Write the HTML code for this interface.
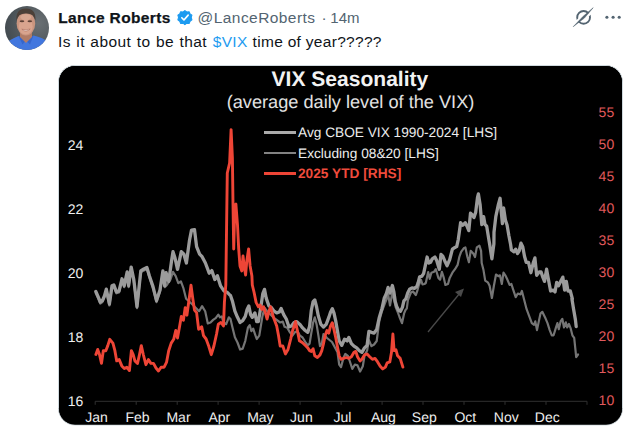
<!DOCTYPE html>
<html><head><meta charset="utf-8"><title>Post</title>
<style>
html,body{margin:0;padding:0;background:#fff;}
body{width:633px;height:430px;overflow:hidden;position:relative;font-family:"Liberation Sans",sans-serif;}
.t{position:absolute;white-space:nowrap;line-height:20px;font-size:15.5px;color:#0f1419;}
.name{left:58.2px;top:7.5px;font-weight:bold;letter-spacing:0.38px;-webkit-text-stroke:0.25px #0f1419;}
.handle{left:197.6px;top:7.5px;color:#536471;letter-spacing:0.43px;}
.dot{left:321.5px;top:7.5px;color:#536471;}
.time{left:330.3px;top:7.5px;color:#536471;font-size:15px;}
.t1{left:58px;top:31.5px;letter-spacing:0.45px;word-spacing:0.6px;}
.t2{left:212.8px;top:31.5px;color:#1d9bf0;letter-spacing:0.3px;}
.t3{left:252.6px;top:31.5px;letter-spacing:0.3px;}
svg{position:absolute;left:0;top:0;}
</style></head><body>
<div class="t name">Lance Roberts</div>
<div class="t handle">@LanceRoberts</div>
<div class="t dot">·</div>
<div class="t time">14m</div>
<div class="t t1">Is it about to be that</div>
<div class="t t2">$VIX</div>
<div class="t t3">time of year?????</div>
<svg width="633" height="430" viewBox="0 0 633 430">
<defs>
<clipPath id="av"><circle cx="27" cy="28" r="22"/></clipPath>
<radialGradient id="avbg" cx="0.75" cy="0.4" r="0.8"><stop offset="0" stop-color="#6a7074"/><stop offset="1" stop-color="#40484d"/></radialGradient>
<filter id="soft" x="-10%" y="-10%" width="120%" height="120%"><feGaussianBlur stdDeviation="0.55"/></filter>
<clipPath id="card"><rect x="59" y="66" width="563" height="358.5" rx="16" ry="16"/></clipPath>
</defs>
<!-- avatar -->
<g clip-path="url(#av)">
<rect x="4" y="5" width="46" height="46" fill="url(#avbg)"/>
<g filter="url(#soft)">
<path d="M2,52 L4,44.5 Q9,40 18.5,36 L26,40.5 L33.5,35.5 Q43,37.5 49,42.5 L52,52 Z" fill="#4377de"/>
<path d="M18.5,36 L22.5,44.5 L26,40.5 Z" fill="#3566cc"/>
<path d="M33.5,35.5 L30,44.5 L26,40.5 Z" fill="#3566cc"/>
<path d="M20,30 L20,37 L26,43 L32,37 L32,30 Z" fill="#b27c66"/>
<ellipse cx="25.9" cy="23.4" rx="9.3" ry="12" fill="#c9957f"/>
<ellipse cx="25.7" cy="26.5" rx="7" ry="8" fill="#d9a48e"/>
<ellipse cx="25.8" cy="17" rx="5.5" ry="3" fill="#d7a791"/>
<path d="M16.4,20.5 Q15.6,8.8 26,8.6 Q36.2,8.8 35.4,20.5 Q34,13.2 26,13.4 Q18,13.2 16.4,20.5 Z" fill="#4b3f38"/>
<ellipse cx="22" cy="21.3" rx="2.3" ry="1" fill="#5d4036"/>
<ellipse cx="29.8" cy="21.3" rx="2.3" ry="1" fill="#5d4036"/>
<path d="M21.8,29.2 Q26,33 30.2,29 Q26,30.4 21.8,29.2 Z" fill="#f6ebe6" stroke="#a3604f" stroke-width="0.5"/>
</g>
</g>
<!-- verified badge -->
<g transform="translate(184.9,17.6) scale(0.86)">
<path d="M0,-8.2 L2.2,-6.6 L4.9,-6.9 L6,-4.4 L8.2,-2.8 L7.4,-0.2 L8.2,2.6 L6,4.2 L4.9,6.8 L2.2,6.5 L0,8.2 L-2.2,6.5 L-4.9,6.8 L-6,4.2 L-8.2,2.6 L-7.4,-0.2 L-8.2,-2.8 L-6,-4.4 L-4.9,-6.9 L-2.2,-6.6 Z" fill="#1d9bf0" stroke="#1d9bf0" stroke-width="1.2" stroke-linejoin="round"/>
<path d="M-3.6,0.2 L-1.1,2.8 L3.8,-2.9" fill="none" stroke="#fff" stroke-width="1.9" stroke-linecap="round" stroke-linejoin="round"/>
</g>
<!-- right icons -->
<circle cx="583.6" cy="17.4" r="6.4" stroke="#536471" fill="none" stroke-width="1.9"/>
<g stroke="#fff" stroke-width="2.6"><line x1="587.6" y1="15.9" x2="591.1" y2="12.5"/><line x1="576.1" y1="22.3" x2="579.6" y2="18.9"/></g>
<path d="M573.2,26.7 L582.9,16.6 L593.2,7.7 L584.4,18.1 Z" fill="#536471" stroke="#536471" stroke-width="0.5" stroke-linejoin="round"/>
<g fill="#536471"><circle cx="606.9" cy="17.3" r="1.55"/><circle cx="613.1" cy="17.3" r="1.55"/><circle cx="619.2" cy="17.3" r="1.55"/></g>
<!-- card -->
<rect x="58.5" y="65.5" width="564" height="359.5" rx="16.5" ry="16.5" fill="#000" stroke="#cfd9de" stroke-width="1"/>
<g clip-path="url(#card)" font-family="Liberation Sans, sans-serif" text-rendering="geometricPrecision">
<rect x="59" y="66" width="563" height="359" fill="#000"/>
<text x="349.9" y="85.9" font-size="21.05" font-weight="bold" fill="#f2f2f2" text-anchor="middle">VIX Seasonality</text>
<text x="350.5" y="107.8" font-size="18.2" fill="#e2e2e2" text-anchor="middle">(average daily level of the VIX)</text>
<g font-size="13.7" fill="#ededed">
<text x="298" y="137.2">Avg CBOE VIX 1990-2024 [LHS]</text>
<text x="298" y="157.8">Excluding 08&amp;20 [LHS]</text>
<text x="298" y="178.4" font-weight="bold" fill="#ef4b3c">2025 YTD [RHS]</text>
</g>
<line x1="264" y1="132.4" x2="296" y2="132.4" stroke="#aaaaaa" stroke-width="3"/>
<line x1="264" y1="152.9" x2="296" y2="152.9" stroke="#828282" stroke-width="2"/>
<line x1="264" y1="173.5" x2="296" y2="173.5" stroke="#ee4536" stroke-width="3"/>
<g stroke="#303030" stroke-width="1"><line x1="95.2" y1="401.3" x2="587" y2="401.3"/><line x1="95.2" y1="401.3" x2="95.2" y2="404.8" /><line x1="136.2" y1="401.3" x2="136.2" y2="404.8" /><line x1="177.2" y1="401.3" x2="177.2" y2="404.8" /><line x1="218.1" y1="401.3" x2="218.1" y2="404.8" /><line x1="259.1" y1="401.3" x2="259.1" y2="404.8" /><line x1="300.1" y1="401.3" x2="300.1" y2="404.8" /><line x1="341.1" y1="401.3" x2="341.1" y2="404.8" /><line x1="382.1" y1="401.3" x2="382.1" y2="404.8" /><line x1="423.0" y1="401.3" x2="423.0" y2="404.8" /><line x1="464.0" y1="401.3" x2="464.0" y2="404.8" /><line x1="505.0" y1="401.3" x2="505.0" y2="404.8" /><line x1="546.0" y1="401.3" x2="546.0" y2="404.8" /><line x1="587.0" y1="401.3" x2="587.0" y2="404.8" /></g>
<g font-size="14" fill="#efefef" text-anchor="middle"><text x="96.5" y="421.8">Jan</text><text x="137.5" y="421.8">Feb</text><text x="178.5" y="421.8">Mar</text><text x="219.4" y="421.8">Apr</text><text x="260.4" y="421.8">May</text><text x="301.4" y="421.8">Jun</text><text x="342.4" y="421.8">Jul</text><text x="383.4" y="421.8">Aug</text><text x="424.3" y="421.8">Sep</text><text x="465.3" y="421.8">Oct</text><text x="506.3" y="421.8">Nov</text><text x="547.3" y="421.8">Dec</text></g>
<g font-size="14" fill="#efefef" text-anchor="end"><text x="83.3" y="405.7">16</text><text x="83.3" y="341.7">18</text><text x="83.3" y="277.7">20</text><text x="83.3" y="213.7">22</text><text x="83.3" y="149.7">24</text></g>
<g font-size="14" fill="#e0595c" text-anchor="start"><text x="598.6" y="405.4">10</text><text x="598.6" y="373.4">15</text><text x="598.6" y="341.4">20</text><text x="598.6" y="309.4">25</text><text x="598.6" y="277.4">30</text><text x="598.6" y="245.4">35</text><text x="598.6" y="213.4">40</text><text x="598.6" y="181.4">45</text><text x="598.6" y="149.4">50</text><text x="598.6" y="117.4">55</text></g>
<g stroke="#4a4a4a" stroke-width="1.3" fill="#4a4a4a"><line x1="428" y1="332" x2="460" y2="293"/><path d="M464,288.5 L455,292 L461,297 Z" stroke="none"/></g>
<path d="M95.8,293.0 L98.1,298.2 L100.3,303.5 L102.4,302.1 L104.5,297.2 L106.3,290.7 L109.4,305.5 L112.0,287.2 L113.8,286.4 L116.4,293.3 L119.0,292.5 L122.0,280.3 L124.2,287.2 L127.2,273.3 L128.6,287.2 L131.2,268.6 L133.8,281.1 L137.0,308.2 L140.8,272.4 L143.4,270.7 L146.9,268.9 L149.5,277.7 L153.0,288.1 L156.5,302.1 L160.0,291.6 L162.9,272.4 L164.7,287.2 L166.9,284.9 L170.4,279.6 L173.0,271.8 L175.7,276.2 L178.3,283.1 L180.9,281.4 L183.5,288.4 L186.1,298.8 L193.0,305.0 L199.1,311.2 L202.1,306.1 L205.2,311.2 L207.8,323.4 L210.5,322.5 L213.1,319.9 L215.7,318.1 L218.3,314.6 L220.0,317.3 L221.8,316.4 L223.5,322.5 L226.2,324.2 L228.8,317.3 L230.5,319.0 L232.3,326.8 L234.9,337.3 L237.5,342.5 L240.1,349.5 L242.7,348.6 L245.3,340.8 L247.9,327.7 L249.7,325.1 L251.4,331.2 L253.2,328.6 L254.9,333.8 L256.7,339.0 L259.3,335.6 L261.0,325.1 L262.4,316.4 L264.5,307.7 L267.1,311.2 L269.7,313.8 L273.2,317.3 L276.7,319.9 L280.2,322.5 L282.8,321.6 L284.6,326.8 L287.2,327.7 L289.8,332.1 L292.4,335.6 L295.0,332.1 L297.6,331.2 L300.0,335.7 L302.6,337.5 L305.2,341.8 L307.8,345.3 L309.6,343.6 L311.3,333.1 L313.1,322.7 L314.8,317.4 L316.6,324.4 L318.3,334.9 L320.0,346.2 L321.8,343.6 L323.5,334.0 L327.0,338.0 L332.0,342.0 L337.5,352.3 L339.2,364.5 L341.0,367.1 L343.6,357.5 L345.3,354.0 L347.9,355.8 L349.7,361.0 L352.3,368.9 L354.9,364.5 L357.5,365.4 L360.1,371.5 L362.8,366.2 L364.5,355.8 L367.1,350.6 L368.9,340.1 L371.5,346.2 L374.1,344.5 L376.7,341.0 L379.3,320.9 L381.9,311.3 L384.8,303.6 L386.7,298.9 L388.1,294.1 L390.0,305.5 L392.4,292.2 L393.9,298.9 L395.8,307.4 L397.7,312.0 L399.5,317.0 L402.0,323.2 L404.1,313.4 L405.5,310.0 L406.8,308.6 L407.9,300.2 L409.5,296.0 L411.0,292.5 L413.0,291.5 L415.8,295.0 L417.2,291.2 L418.7,285.5 L421.0,279.8 L422.5,284.5 L424.4,284.0 L425.8,283.0 L427.3,276.0 L428.2,272.0 L429.7,278.8 L431.4,272.7 L434.0,271.8 L435.8,269.2 L438.4,277.9 L440.1,279.7 L441.9,271.8 L443.6,277.1 L445.4,284.9 L448.0,284.0 L449.7,277.9 L452.4,272.7 L455.0,269.2 L457.6,264.9 L459.3,257.0 L461.1,251.8 L463.7,248.3 L465.4,247.4 L467.2,256.2 L468.9,262.3 L470.7,250.9 L473.3,253.5 L475.0,257.0 L476.8,247.4 L479.4,245.7 L481.1,250.9 L481.7,263.1 L483.5,270.1 L485.2,280.6 L487.8,282.3 L489.6,285.8 L491.9,298.0 L493.9,285.8 L496.0,274.5 L498.3,276.2 L500.0,275.3 L501.8,284.0 L503.5,272.7 L505.3,275.3 L507.0,278.8 L509.6,284.9 L511.4,284.0 L513.1,289.3 L515.7,297.1 L517.8,293.5 L520.5,294.4 L521.9,290.9 L523.9,298.7 L526.6,309.2 L529.2,316.2 L531.8,323.1 L534.1,324.9 L535.3,321.4 L537.0,330.1 L538.8,321.4 L540.5,313.5 L542.3,311.8 L544.0,315.3 L545.7,318.8 L547.5,323.1 L549.7,330.1 L551.8,335.3 L553.6,335.3 L555.7,328.4 L557.4,323.1 L558.8,329.2 L560.6,321.4 L562.3,318.8 L564.0,327.5 L565.8,322.3 L567.2,327.5 L568.9,324.0 L570.7,328.4 L572.4,335.3 L574.2,337.9 L575.4,349.3 L576.2,357.1 L578.0,354.5" fill="none" stroke="#757575" stroke-width="2.2" stroke-linejoin="round" stroke-linecap="round"/>
<path d="M95.8,291.5 L98.1,296.7 L100.3,302.0 L102.4,300.6 L104.5,295.7 L106.3,289.2 L109.4,304.0 L112.0,285.7 L113.8,284.9 L116.4,291.8 L119.0,291.0 L122.0,278.8 L124.2,285.7 L127.2,271.8 L128.6,285.7 L131.2,267.1 L133.8,279.6 L137.0,306.7 L140.8,270.9 L143.4,269.2 L146.9,267.4 L149.5,276.2 L153.0,286.6 L156.5,300.6 L160.0,290.1 L162.9,270.9 L164.7,285.7 L166.1,272.7 L168.7,281.4 L171.6,260.5 L173.0,251.7 L175.0,258.0 L177.5,269.4 L181.3,251.6 L183.9,254.2 L186.4,263.0 L189.5,240.2 L191.5,230.1 L194.5,229.6 L196.6,246.6 L199.6,254.2 L202.1,256.7 L205.4,263.0 L209.2,273.2 L211.8,270.6 L214.8,279.5 L217.4,275.7 L220.6,285.9 L223.9,290.9 L227.0,292.2 L229.5,294.7 L230.5,295.5 L232.3,300.7 L234.9,311.2 L237.5,317.3 L240.1,322.5 L242.7,320.7 L245.3,316.4 L247.1,309.4 L248.8,305.9 L250.6,314.6 L252.3,317.3 L254.9,312.9 L256.7,321.6 L258.4,321.6 L261.0,305.9 L262.8,293.7 L264.5,289.4 L266.2,298.1 L268.9,305.9 L271.5,307.7 L274.1,311.2 L276.7,312.9 L279.3,312.0 L281.1,308.5 L283.7,314.6 L286.3,319.0 L288.9,326.8 L291.5,326.0 L294.1,322.5 L296.8,321.6 L299.4,324.2 L300.0,324.4 L302.6,327.9 L305.2,330.5 L307.8,332.3 L309.6,326.2 L311.3,310.5 L313.1,301.7 L314.8,300.0 L316.6,307.0 L318.3,315.7 L320.9,324.4 L323.5,327.0 L326.2,324.4 L328.8,317.4 L330.5,312.2 L332.3,308.7 L334.0,313.1 L335.7,320.9 L337.5,331.4 L339.2,341.0 L341.8,345.3 L344.5,339.2 L347.1,341.0 L348.8,337.5 L351.4,343.6 L354.0,346.2 L356.7,347.9 L359.3,350.6 L361.9,352.3 L364.5,347.9 L367.1,345.3 L368.9,331.4 L371.5,332.3 L374.1,333.1 L376.7,329.6 L379.3,317.4 L381.9,308.7 L382.4,306.5 L384.3,297.9 L386.2,294.1 L388.1,287.4 L390.0,293.1 L392.4,285.5 L393.9,292.2 L395.3,301.7 L396.7,306.5 L398.6,310.3 L400.5,311.3 L402.4,307.4 L403.9,300.8 L405.8,298.9 L407.7,293.1 L409.6,289.3 L412.0,287.9 L414.4,288.4 L416.8,286.5 L418.2,282.6 L419.6,276.9 L421.8,276.2 L423.6,273.6 L425.3,265.7 L427.1,257.0 L428.8,263.1 L430.6,262.3 L432.3,258.8 L434.9,257.0 L436.7,260.5 L439.3,269.2 L441.0,254.4 L442.8,256.2 L445.4,262.3 L447.1,265.7 L449.7,259.6 L452.4,249.2 L455.0,247.4 L456.7,246.6 L458.3,239.3 L460.6,222.7 L462.7,225.3 L465.3,222.7 L467.0,226.2 L468.8,230.6 L470.5,213.1 L472.3,214.9 L474.0,217.5 L475.7,212.3 L477.5,197.4 L478.4,193.9 L480.1,204.4 L481.8,224.5 L483.6,216.6 L485.0,224.5 L486.7,226.2 L488.8,239.3 L489.6,243.9 L491.9,258.8 L493.9,243.9 L494.0,232.3 L495.8,216.6 L498.4,204.4 L500.1,198.3 L501.4,213.1 L502.4,223.6 L503.6,207.9 L505.4,220.1 L507.1,225.3 L508.9,235.8 L510.6,244.5 L511.4,250.0 L514.0,251.8 L515.7,249.2 L517.5,253.5 L519.2,250.9 L521.0,243.1 L522.7,246.6 L524.5,256.2 L526.2,262.3 L528.5,262.3 L530.9,272.7 L533.2,263.1 L534.9,257.9 L536.7,275.3 L539.3,271.8 L541.0,271.8 L542.8,277.1 L544.5,281.4 L546.6,269.2 L548.3,278.8 L550.6,291.0 L553.2,290.1 L555.0,291.9 L556.7,282.3 L558.5,285.8 L561.1,280.6 L562.8,277.1 L564.6,290.1 L566.3,281.4 L568.0,291.0 L570.3,291.0 L572.4,298.9 L571.9,298.7 L573.6,309.2 L575.4,319.6 L576.2,326.6" fill="none" stroke="#9b9b9b" stroke-width="3.3" stroke-linejoin="round" stroke-linecap="round"/>
<path d="M95.9,354.5 L97.7,349.4 L99.5,354.5 L101.5,363.4 L103.3,350.7 L105.8,350.7 L107.8,345.6 L109.8,339.3 L112.9,343.1 L114.9,350.7 L116.7,360.9 L119.2,359.6 L121.8,365.9 L124.3,368.5 L126.8,367.2 L129.4,370.5 L131.4,350.7 L133.2,354.5 L134.9,360.9 L137.5,363.4 L139.5,354.5 L141.3,345.6 L143.3,354.5 L145.9,364.7 L148.4,359.6 L150.9,363.4 L153.5,363.4 L156.0,368.0 L158.5,371.0 L161.1,367.2 L164.1,367.2 L166.6,362.1 L168.7,350.7 L171.2,343.1 L173.7,339.3 L175.8,330.4 L177.5,338.0 L179.3,327.9 L181.3,316.5 L183.4,320.3 L185.2,307.6 L186.9,315.2 L189.0,300.0 L191.0,285.3 L192.8,298.7 L194.5,310.1 L196.6,312.7 L198.6,329.2 L200.0,328.6 L201.7,326.8 L203.5,335.6 L206.1,339.0 L208.7,346.0 L211.3,354.7 L213.9,346.0 L216.6,333.8 L218.3,324.2 L220.9,322.5 L223.5,326.0 L224.4,302.4 L225.8,285.0 L226.6,225.0 L227.3,173.0 L229.6,163.0 L231.1,129.6 L232.4,158.0 L233.0,204.0 L233.7,249.0 L234.9,205.0 L235.9,204.0 L237.5,225.0 L238.7,249.0 L240.0,266.0 L241.8,271.0 L243.0,256.0 L244.3,267.0 L245.6,275.0 L246.8,261.0 L248.6,249.0 L250.1,266.0 L251.9,276.0 L252.3,285.0 L254.0,292.0 L256.1,302.4 L258.4,306.8 L260.1,305.0 L261.9,309.4 L263.6,306.8 L265.4,312.9 L267.1,319.0 L268.9,311.2 L270.6,306.8 L272.4,313.8 L274.1,319.0 L276.7,326.0 L278.5,335.6 L280.2,346.0 L282.8,346.0 L285.4,353.9 L288.0,349.5 L290.7,339.0 L292.4,331.2 L294.1,326.0 L295.5,321.6 L297.3,330.3 L299.4,340.8 L300.0,341.0 L302.6,342.7 L305.2,345.3 L307.8,347.9 L309.6,350.6 L311.3,351.4 L313.1,348.8 L314.8,355.8 L317.4,357.5 L320.0,354.9 L321.8,350.6 L323.5,343.6 L325.3,334.9 L327.0,330.5 L328.8,333.1 L330.5,326.2 L332.3,322.7 L334.0,329.6 L335.7,337.5 L337.5,347.1 L339.2,355.8 L341.0,359.3 L343.6,358.4 L346.2,357.5 L348.8,358.4 L351.4,356.7 L354.0,352.3 L355.8,351.4 L357.5,356.7 L360.1,361.0 L361.9,359.3 L364.5,354.9 L367.1,354.0 L369.7,356.7 L372.4,359.3 L375.0,358.4 L377.6,361.9 L380.2,366.2 L382.8,368.9 L385.4,367.1 L387.2,362.8 L389.8,361.9 L391.5,352.3 L392.9,334.0 L394.1,350.6 L395.9,349.7 L397.6,355.8 L400.2,358.4 L402.9,367.1" fill="none" stroke="#ee4536" stroke-width="2.9" stroke-linejoin="round" stroke-linecap="round"/>
</g>
</svg>
</body></html>
